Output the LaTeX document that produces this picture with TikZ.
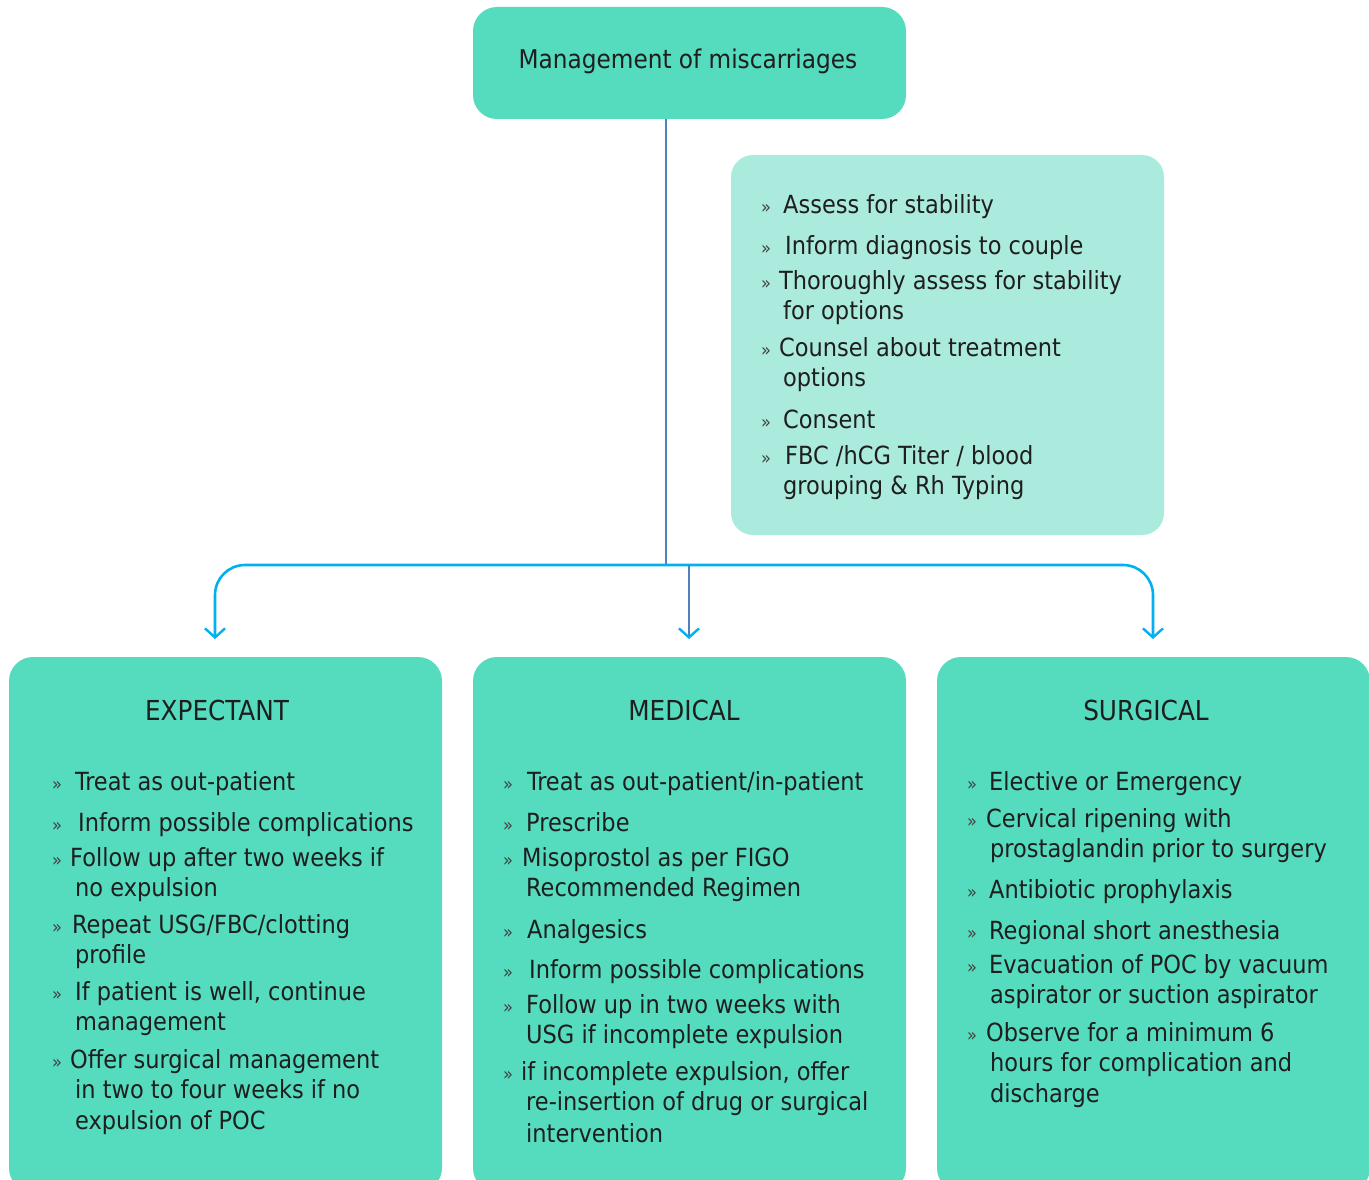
\documentclass[tikz,border=0pt]{standalone}
\usepackage{fontspec}
\setmainfont{DejaVu Sans Condensed}
\usetikzlibrary{arrows.meta}
\definecolor{boxg}{HTML}{55DBBE}
\definecolor{boxl}{HTML}{ABEBDD}
\definecolor{cyanl}{HTML}{00B0F0}
\definecolor{steel}{HTML}{4F81BD}
\definecolor{ink}{HTML}{1E1E1E}
\tikzset{
  gbox/.style={fill=boxg, draw=none, rounded corners=24, inner sep=0pt},
  lbox/.style={fill=boxl, draw=none, rounded corners=22, inner sep=0pt},
  txt/.style={anchor=base west, inner sep=0pt, text=ink, font=\fontsize{25}{30}\selectfont},
  ttl/.style={anchor=base, inner sep=0pt, text=ink, font=\fontsize{27.5}{30}\selectfont},
  bul/.style={anchor=base, inner sep=0pt, text=ink!85, font=\fontsize{18}{18}\selectfont},
  conn/.style={draw=cyanl, line width=2.6pt},
  tip/.style={-{Straight Barb[length=9pt,width=20pt,line width=2.4pt,color=cyanl]}}
}
\newcommand\itm[5]{%
  \node[bul] (#1b) at ({#2},{#4+10}) {»};
  \node[txt] (#1) at ({#3},{#4+10}) {#5};}
\newcommand\cnt[4]{%
  \node[txt] (#1) at ({#2},{#3+10}) {#4};}
\begin{document}
\begin{tikzpicture}[x=1pt,y=-1pt]
\clip (0,0) rectangle (1369,1180);
\fill[white] (0,0) rectangle (1369,1180);
% boxes
\node[gbox, minimum width=433, minimum height=112] (top) at (689.5,63) {};
\node[ttl, font=\fontsize{25.8}{30}\selectfont] (toptxt) at (688,69) {Management of miscarriages};
\node[lbox, minimum width=433, minimum height=380] (info) at (947.5,345) {};
\node[gbox, minimum width=433, minimum height=535] (exp) at (225.5,924.5) {};
\node[gbox, minimum width=433, minimum height=535] (med) at (689.5,924.5) {};
\node[gbox, minimum width=433, minimum height=535] (sur) at (1153.5,924.5) {};
% connectors
\coordinate (j) at (666,565);
\coordinate (lt) at (215,639);
\coordinate (mt) at (689,639);
\coordinate (rt) at (1153,639);
\draw[draw=steel, line width=1.8pt] (top.south -| j) -- (j);
\draw[conn, rounded corners=30, tip] (j) -- (j -| lt) -- (lt);
\draw[conn, rounded corners=30, tip] (j) -- (j -| rt) -- (rt);
\draw[draw=steel, line width=1.8pt, tip] (j -| mt) -- (mt);
% info text
\itm{i1}{766}{783}{203}{Assess for stability}
\itm{i2}{766}{785}{244}{Inform diagnosis to couple}
\itm{i3}{766}{779}{279}{Thoroughly assess for stability}
\cnt{i3b}{783}{309}{for options}
\itm{i4}{766}{779}{346}{Counsel about treatment}
\cnt{i4b}{783}{376}{options}
\itm{i5}{766}{783}{418}{Consent}
\itm{i6}{766}{785}{454}{FBC /hCG Titer / blood}
\cnt{i6b}{783}{484}{grouping \& Rh Typing}
% titles
\node[ttl] (t1) at (217,720) {EXPECTANT};
\node[ttl] (t2) at (684,720) {MEDICAL};
\node[ttl] (t3) at (1146,720) {SURGICAL};
% expectant
\itm{e1}{57}{75}{780}{Treat as out-patient}
\itm{e2}{57}{78}{821}{Inform possible complications}
\itm{e3}{57}{70}{856}{Follow up after two weeks if}
\cnt{e3b}{75}{886}{no expulsion}
\itm{e4}{57}{72}{923}{Repeat USG/FBC/clotting}
\cnt{e4b}{75}{953}{profile}
\itm{e5}{57}{75}{990}{If patient is well, continue}
\cnt{e5b}{75}{1020}{management}
\itm{e6}{57}{70}{1058}{Offer surgical management}
\cnt{e6b}{75}{1088}{in two to four weeks if no}
\cnt{e6c}{75}{1119}{expulsion of POC}
% medical
\itm{m1}{508}{527}{780}{Treat as out-patient/in-patient}
\itm{m2}{508}{526}{821}{Prescribe}
\itm{m3}{508}{522}{856}{Misoprostol as per FIGO}
\cnt{m3b}{526}{886}{Recommended Regimen}
\itm{m4}{508}{527}{928}{Analgesics}
\itm{m5}{508}{529}{968}{Inform possible complications}
\itm{m6}{508}{526}{1003}{Follow up in two weeks with}
\cnt{m6b}{526}{1033}{USG if incomplete expulsion}
\itm{m7}{508}{521}{1070}{if incomplete expulsion, offer}
\cnt{m7b}{526}{1100}{re-insertion of drug or surgical}
\cnt{m7c}{526}{1132}{intervention}
% surgical
\itm{s1}{972}{989}{780}{Elective or Emergency}
\itm{s2}{972}{986}{817}{Cervical ripening with}
\cnt{s2b}{990}{847}{prostaglandin prior to surgery}
\itm{s3}{972}{989}{888}{Antibiotic prophylaxis}
\itm{s4}{972}{989}{929}{Regional short anesthesia}
\itm{s5}{972}{989}{963}{Evacuation of POC by vacuum}
\cnt{s5b}{990}{993}{aspirator or suction aspirator}
\itm{s6}{972}{986}{1031}{Observe for a minimum 6}
\cnt{s6b}{990}{1061}{hours for complication and}
\cnt{s6c}{990}{1092}{discharge}
\end{tikzpicture}
\end{document}
